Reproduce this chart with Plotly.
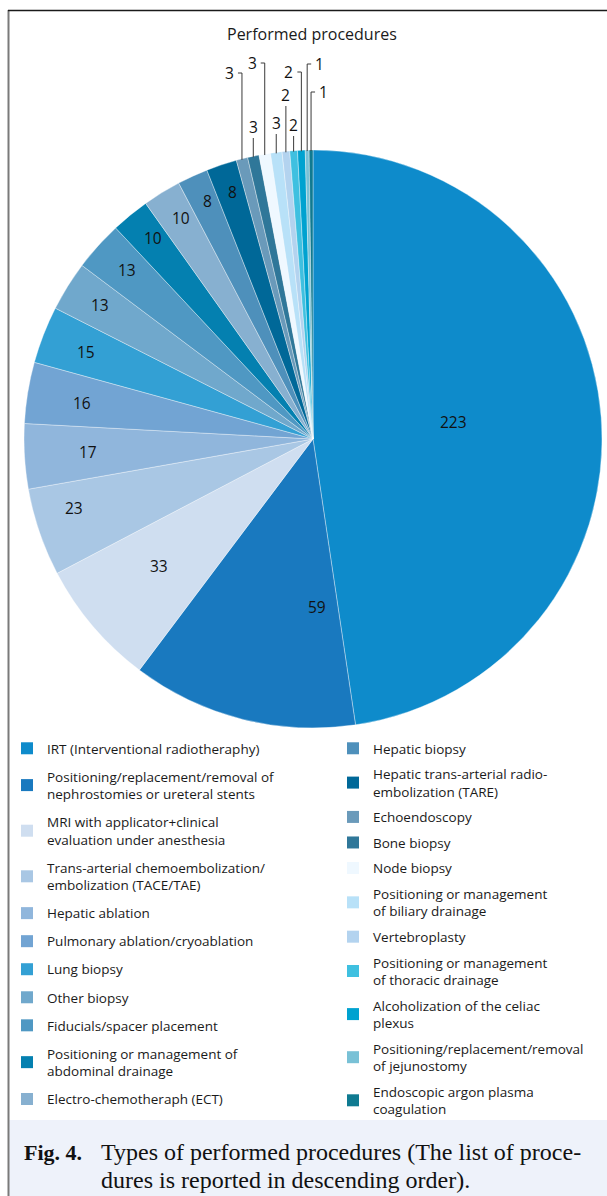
import math
import plotly.graph_objects as go

# ---------------- data ----------------
categories = [
    "IRT (Interventional radiotheraphy)",
    "Positioning/replacement/removal of nephrostomies or ureteral stents",
    "MRI with applicator+clinical evaluation under anesthesia",
    "Trans-arterial chemoembolization/ embolization (TACE/TAE)",
    "Hepatic ablation",
    "Pulmonary ablation/cryoablation",
    "Lung biopsy",
    "Other biopsy",
    "Fiducials/spacer placement",
    "Positioning or management of abdominal drainage",
    "Electro-chemotheraph (ECT)",
    "Hepatic biopsy",
    "Hepatic trans-arterial radio-embolization (TARE)",
    "Echoendoscopy",
    "Bone biopsy",
    "Node biopsy",
    "Positioning or management of biliary drainage",
    "Vertebroplasty",
    "Positioning or management of thoracic drainage",
    "Alcoholization of the celiac plexus",
    "Positioning/replacement/removal of jejunostomy",
    "Endoscopic argon plasma coagulation",
]
values = [223, 59, 33, 23, 17, 16, 15, 13, 13, 10, 10, 8, 8, 3, 3, 3, 3, 2, 2, 2, 1, 1]
legend_names = [
    "IRT (Interventional radiotheraphy)",
    "Positioning/replacement/removal of<br>nephrostomies or ureteral stents",
    "MRI with applicator+clinical<br>evaluation under anesthesia",
    "Trans-arterial chemoembolization/<br>embolization (TACE/TAE)",
    "Hepatic ablation",
    "Pulmonary ablation/cryoablation",
    "Lung biopsy",
    "Other biopsy",
    "Fiducials/spacer placement",
    "Positioning or management of<br>abdominal drainage",
    "Electro-chemotheraph (ECT)",
    "Hepatic biopsy",
    "Hepatic trans-arterial radio-<br>embolization (TARE)",
    "Echoendoscopy",
    "Bone biopsy",
    "Node biopsy",
    "Positioning or management<br>of biliary drainage",
    "Vertebroplasty",
    "Positioning or management<br>of thoracic drainage",
    "Alcoholization of the celiac<br>plexus",
    "Positioning/replacement/removal<br>of jejunostomy",
    "Endoscopic argon plasma<br>coagulation",
]
chart_title = "Performed procedures"
caption_label = "Fig. 4."
caption_lines = ["Types of performed procedures (The list of proce-",
                 "dures is reported in descending order)."]

# ---------------- styles ----------------
colors = ['#0e8bcb', '#1979bf', '#cfdef0', '#a9c7e4', '#90b6dc', '#72a4d3', '#33a0d4',
          '#70a8cc', '#4f98c3', '#0480b0', '#87b0d0', '#4e90bb', '#006898', '#6a9aba',
          '#2f7799', '#eff8ff', '#b8e1f8', '#b3d3ef', '#3fc0e0', '#00a2d0', '#79c1d6',
          '#0f7a91']
N_INSIDE = 13
# inside label placement: radius fraction and position across the slice (0..1)
label_r = [0.49, 0.58, 0.69, 0.86, 0.78, 0.81, 0.84, 0.87, 0.87, 0.89, 0.89, 0.90, 0.90]
label_a = [0.485, 0.16, 0.53, 0.65, 0.52, 0.47, 0.49, 0.52, 0.54, 0.6, 0.6, 0.6, 0.58]
# leader label layout for small slices (top y of leader in px, label side)
leader_tops = [73, 138, 63, 134, 106, 136, 72, 64, 92]
leader_sides = ['left', 'above', 'left', 'above', 'above', 'above', 'left', 'right', 'right']

W, H = 607, 1196
def px(x):
    return x / W
def py(y):
    return 1 - y / H

PIE_L, PIE_R, PIE_T, PIE_B = 24, 602, 150, 728
cx, cy = (PIE_L + PIE_R) / 2, (PIE_T + PIE_B) / 2
R = (PIE_R - PIE_L) / 2

SANS = "Open Sans"
SERIF = "Liberation Serif"
NUM_FONT = dict(family=SANS, size=15.5, color='#111111')

fig = go.Figure()

fig.add_trace(go.Pie(
    labels=categories, values=values, sort=False, direction='clockwise', rotation=0,
    marker=dict(colors=colors, line=dict(color='rgba(255,255,255,0.6)', width=0.6)),
    textinfo='none', showlegend=False,
    domain=dict(x=[px(PIE_L), px(PIE_R)], y=[py(PIE_B), py(PIE_T)]),
    hoverinfo='label+value',
))

# legend entries (two columns)
for i, name in enumerate(legend_names):
    fig.add_trace(go.Scatter(
        x=[None], y=[None], mode='markers',
        marker=dict(symbol='square', size=12, color=colors[i], line=dict(width=0)),
        name=name, legendgroup=f"g{i}",
        legend='legend' if i < 11 else 'legend2',
        showlegend=True, hoverinfo='skip',
    ))

shapes = []
annotations = []

total = sum(values)
cum = 0
for i, v in enumerate(values):
    start = cum / total * 2 * math.pi
    span = v / total * 2 * math.pi
    cum += v
    if i < N_INSIDE:
        ang = start + span * label_a[i]
        rr = R * label_r[i]
        annotations.append(dict(text=str(v), xref='paper', yref='paper',
                                x=px(cx + rr * math.sin(ang)), y=py(cy - rr * math.cos(ang)),
                                xanchor='center', yanchor='middle', showarrow=False,
                                font=NUM_FONT))
        continue
    mid = start + span / 2
    k = i - N_INSIDE
    x0 = cx + R * math.sin(mid)
    y0 = cy - R * math.cos(mid)
    top = leader_tops[k]
    side = leader_sides[k]
    shapes.append(dict(type='line', xref='paper', yref='paper',
                       x0=px(x0), x1=px(x0), y0=py(y0 + 1), y1=py(top),
                       line=dict(color='#3a3a3a', width=1)))
    if side == 'left':
        shapes.append(dict(type='line', xref='paper', yref='paper',
                           x0=px(x0 - 4), x1=px(x0), y0=py(top), y1=py(top),
                           line=dict(color='#3a3a3a', width=1)))
        tx, ty, xa = x0 - 6, top, 'right'
    elif side == 'right':
        shapes.append(dict(type='line', xref='paper', yref='paper',
                           x0=px(x0), x1=px(x0 + 4), y0=py(top), y1=py(top),
                           line=dict(color='#3a3a3a', width=1)))
        tx, ty, xa = x0 + 6, top, 'left'
    else:
        tx, ty, xa = x0, top - 11, 'center'
    annotations.append(dict(text=str(v), xref='paper', yref='paper', x=px(tx), y=py(ty),
                            xanchor=xa, yanchor='middle', showarrow=False, font=NUM_FONT))

# frame and caption background
shapes.append(dict(type='rect', xref='paper', yref='paper', x0=px(9), x1=1, y0=0, y1=py(1120),
                   fillcolor='#eef2fa', line=dict(width=0), layer='below'))
shapes.append(dict(type='line', xref='paper', yref='paper', x0=px(8.5), x1=px(8.5), y0=0, y1=py(10),
                   line=dict(color='#7a7a7a', width=2)))
shapes.append(dict(type='line', xref='paper', yref='paper', x0=px(8), x1=1, y0=py(10.5), y1=py(10.5),
                   line=dict(color='#1a1a1a', width=1.5)))

annotations.append(dict(text=chart_title, xref='paper', yref='paper', x=px(312), y=py(34),
                        xanchor='center', yanchor='middle', showarrow=False,
                        font=dict(family=SANS, size=16, color='#1a1a1a')))
annotations.append(dict(text=f"<b>{caption_label}</b>", xref='paper', yref='paper', x=px(22), y=py(1152),
                        xanchor='left', yanchor='middle', showarrow=False,
                        font=dict(family=SERIF, size=22, color='#111111')))
for j, line in enumerate(caption_lines):
    annotations.append(dict(text=line, xref='paper', yref='paper', x=px(99), y=py(1152 + 28 * j),
                            xanchor='left', yanchor='middle', showarrow=False, align='left',
                            font=dict(family=SERIF, size=24, color='#111111')))

legend_common = dict(xanchor='left', yanchor='top', traceorder='grouped', bgcolor='rgba(0,0,0,0)',
                     font=dict(family=SANS, size=13.5, color='#1a1a1a'), valign='middle',
                     itemclick=False, itemdoubleclick=False)

fig.update_layout(
    width=W, height=H, margin=dict(l=0, r=0, t=0, b=0),
    paper_bgcolor='white', plot_bgcolor='rgba(0,0,0,0)',
    xaxis=dict(visible=False), yaxis=dict(visible=False),
    shapes=shapes, annotations=annotations,
    legend=dict(x=px(7), y=py(733), tracegroupgap=7.5, **legend_common),
    legend2=dict(x=px(333), y=py(733), tracegroupgap=5, **legend_common),
)

fig.write_html("out.html")
